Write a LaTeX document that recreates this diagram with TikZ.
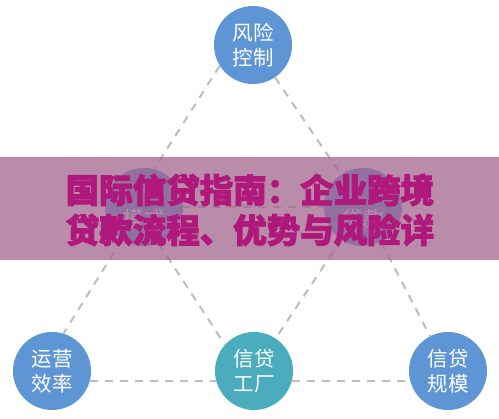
\documentclass[tikz,border=0pt]{standalone}
\usepackage{fontspec}
\newfontfamily\cjk{Noto Sans CJK SC}
\newfontfamily\titlefont[BoldFeatures={FakeBold=2.6}]{Noto Sans CJK SC}
\definecolor{cblue}{RGB}{94,149,213}
\definecolor{cteal}{RGB}{75,172,190}
\definecolor{dashgrey}{RGB}{192,188,192}
\definecolor{bandpink}{RGB}{162,102,142}
\definecolor{titlered}{RGB}{176,24,124}
\begin{document}
\begin{tikzpicture}[x=1pt,y=1pt,
  bubble/.style={circle,minimum size=78pt,inner sep=0pt,text=white,
    font=\cjk\fontsize{20.5}{25}\selectfont,align=center},
  bluebubble/.style={bubble,fill=cblue},
  tealbubble/.style={bubble,fill=cteal},
  link/.style={draw=dashgrey,line width=2pt,dash pattern=on 8pt off 7pt}]
\useasboundingbox (0,0) rectangle (499,419);
\fill[white] (0,0) rectangle (499,419);
% nodes
\node[bluebubble] (top) at (253,374) {风险\\控制};
\node[bluebubble] (lm) at (144,212) {};
\node[bluebubble] (rm) at (363,212) {};
\node[bluebubble] (bl) at (52,48) {运营\\效率};
\node[tealbubble] (bc) at (254,48) {信贷\\工厂};
\node[bluebubble] (br) at (448,48) {信贷\\规模};
\node[text=white,font=\cjk\fontsize{20.5}{25}\selectfont] (lmt) at (144,200) {模式};
\node[text=white,font=\cjk\fontsize{20.5}{25}\selectfont] (rmt) at (363,200) {贷款};
% connectors
\draw[link] (top.212) -- (lm.75);
\draw[link] (top) -- (rm);
\draw[link] (lm) -- (rm);
\draw[link] (lm.236) -- (bl.73);
\draw[link] (lm.292) -- (bc.138);
\draw[link] (rm) -- (bc);
\draw[link] (rm) -- (br);
\draw[link] (bl.-15) -- (bc.195);
\draw[link] (bc.-15) -- (br.195);
% band
\fill[bandpink,opacity=0.75] (0,159) rectangle (499,262);
\node[text=titlered,font=\titlefont\bfseries\fontsize{33.5}{40}\selectfont,align=center,inner sep=0pt] (title) at (250,209) {国际信贷指南：企业跨境\\贷款流程、优势与风险详};
\end{tikzpicture}
\end{document}
